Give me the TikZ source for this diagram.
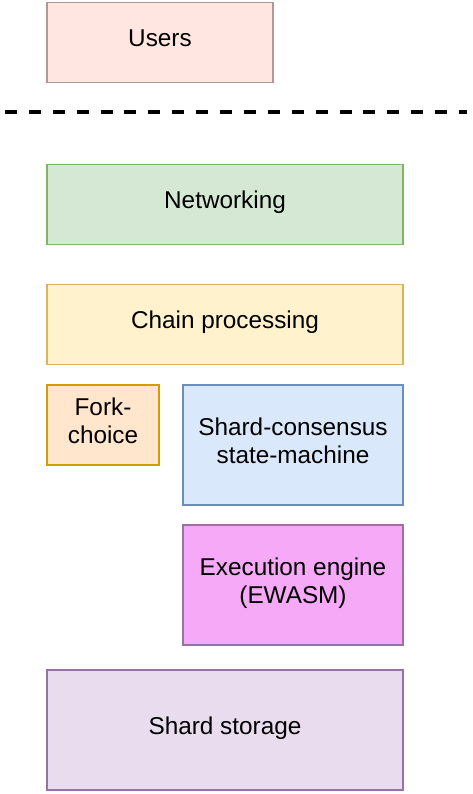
\documentclass[tikz,border=0pt]{standalone}
\usepackage{fontspec}
\setmainfont{Liberation Sans}
\usetikzlibrary{positioning}

\definecolor{usersfill}{HTML}{FFE6E0}
\definecolor{usersdraw}{HTML}{B09898}
\definecolor{netfill}{HTML}{D5E8D4}
\definecolor{netdraw}{HTML}{82B366}
\definecolor{chainfill}{HTML}{FFF2CC}
\definecolor{chaindraw}{HTML}{D6B656}
\definecolor{forkfill}{HTML}{FFE6CC}
\definecolor{forkdraw}{HTML}{D79B00}
\definecolor{consfill}{HTML}{DAE8FC}
\definecolor{consdraw}{HTML}{6C8EBF}
\definecolor{execfill}{HTML}{F5A9F7}
\definecolor{storefill}{HTML}{E8DCEE}
\definecolor{purpledraw}{HTML}{9673A6}

\begin{document}
\begin{tikzpicture}[
        x=1cm, y=1cm,
        box/.style={draw, line width=1.4pt, align=center,
                    font=\fontsize{17.3pt}{19.9pt}\selectfont,
                    inner sep=0pt, minimum height=2.0cm,
                    text height=12pt, text depth=6.2pt},
        tall/.style={box, minimum height=3.0cm},
        pair/.style={text height=31.9pt, text depth=5.3pt},
        sep/.style={line width=2.8pt, dash pattern=on 8.5pt off 8.5pt}]

    \useasboundingbox (0,0) rectangle (11.8,19.85);

    \node[box,  minimum width=5.65cm, fill=usersfill, draw=usersdraw]       (users) at (4.0,18.7875)   {Users};

    % --- separador
    \coordinate (sepL) at (0.125,17.05);
    \coordinate (sepR) at (11.675,17.05);
    \draw[sep] (sepL) -- (sepR);

    \node[box,  minimum width=8.9cm, fill=netfill, draw=netdraw]           (net)   at (5.625,14.7375) {Networking};
    \node[box,  minimum width=8.9cm, fill=chainfill, draw=chaindraw]       (chain) at (5.625,11.7375) {Chain processing};
    \node[box,  pair, minimum width=2.8cm, fill=forkfill, draw=forkdraw]   (fork)  at (2.575,9.225)   {Fork-\\choice};
    \node[tall, pair, minimum width=5.5cm, fill=consfill, draw=consdraw]   (cons)  at (7.325,8.725)   {Shard-consensus\\state-machine};
    \node[tall, pair, minimum width=5.5cm, fill=execfill, draw=purpledraw] (exec)  at (7.325,5.225)   {Execution engine\\(EWASM)};
    \node[tall, minimum width=8.9cm, fill=storefill, draw=purpledraw]      (store) at (5.625,1.6)     {Shard storage};

    \end{tikzpicture}
\end{document}
